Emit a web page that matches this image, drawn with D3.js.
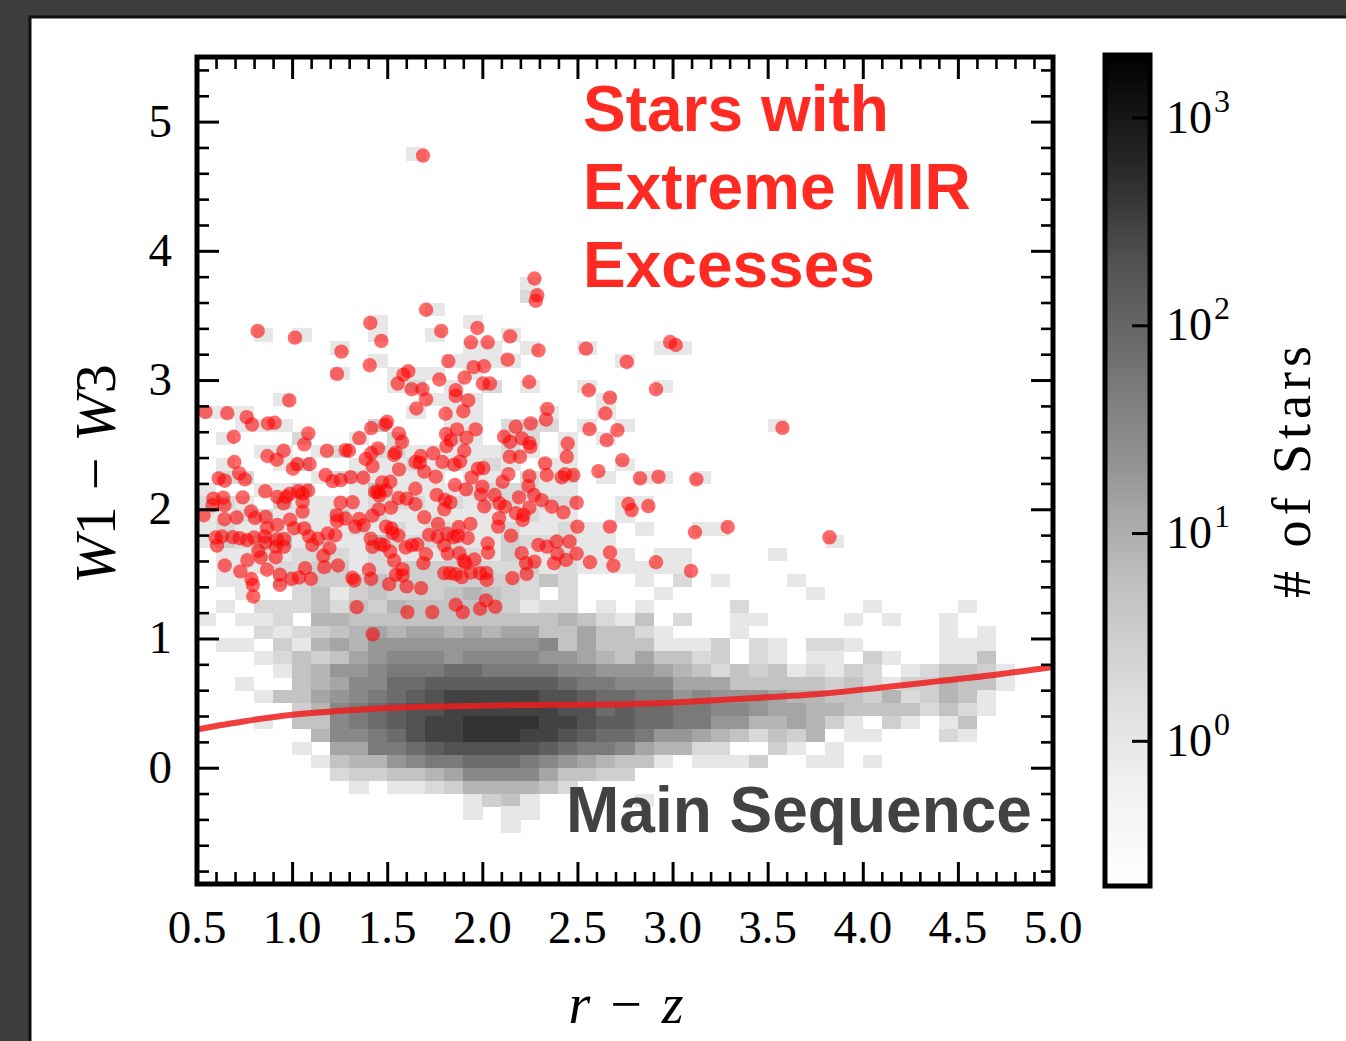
<!DOCTYPE html>
<html><head><meta charset="utf-8">
<script src="https://cdn.jsdelivr.net/npm/d3@7"></script>
<style>
html,body{margin:0;padding:0;background:#3c3c3c;}
svg{display:block;}
</style></head><body>
<svg id="chart" width="1346" height="1041"></svg>
<script>
// ---------------- DATA ----------------
const xTickValues = [0.5,1.0,1.5,2.0,2.5,3.0,3.5,4.0,4.5,5.0];
const xTickLabels = ["0.5","1.0","1.5","2.0","2.5","3.0","3.5","4.0","4.5","5.0"];
const yTickValues = [0,1,2,3,4,5];
const yTickLabels = ["0","1","2","3","4","5"];
const cbTickValues = [1,10,100,1000];
const cbTickExponents = ["0","1","2","3"];

// 2D histogram, bins of 0.1 x 0.1 starting at r-z = 0.5; rows from W1-W3 = 4.7 down to -0.5
// each character is a count level (see levelCounts), '.' = empty; '|' separates groups of 5 bins
const histTopY = 4.7;
const levelCounts = {"1":1,"2":2,"3":3,"4":5,"5":8,"6":13,"7":20,"8":32,"9":50,"a":80,"b":130,"c":200,"d":300,"e":450};
const histRows = [
 ".....|.....|.1...",
 "", "", "", "", "", "", "", "", "",
 ".....|.....|.....|..1..",
 ".....|.....|.....|..2..",
 ".....|.....|..1..",
 ".....|....1|....1",
 "...1.|1...1|..1..|.1...",
 ".....|..1..|....1|1.1..|1...1|1....",
 ".....|....1|...11|11...|..1..",
 ".....|..1..|111.1",
 ".....|.....|12.1.|2.1..|1...1",
 "....1|.....|..111|.....|.1...",
 "111..|.....|.1.11|...1.|.1...",
 "..111|....3|...11|.222.|1.1..|.....|1....",
 ".1...|2..1.|2..21|.22.1|.1...",
 "...11|.12.2|21111|121.1",
 ".1..1|3..11|12121|21.11|..1..",
 ".22..|.1221|111.1|1.213|.1.11|.1...",
 "1..11|3..14|11112|22211",
 "221.3|11112|22121|22122|..11.",
 "11221|11312|11111|11211|..1..",
 "12111|21121|21221|12112|11.1.|.11..",
 "13234|12114|22221|13222|11...|.....|...1.",
 ".1121|22212|11122|13112|111.1|1....|1....",
 ".1112|23312|23333|22312|11111|1....",
 ".11.2|23334|33333|33242|...1.|2.1..|.1...",
 "..1..|24134|33345|432.2|....1|.....|..1..",
 ".1.22|24243|54444|43122|.1.1.|...2.|.....|1....|1....",
 "1.112|.5544|44444|44445|4214.|2..11|....1|.1..1",
 "...21|23456|56656|56644|64421|...1.|.....|....1|.1...",
 ".11.3|15657|77777|77784|64441|113.2|1.221|....1|11...",
 "...12|43467|88878|88877|65464|423.2|1.11.|31..1|14...",
 "....1|45778|999aa|99998|87776|54243|41213|2.124|431..",
 "..1..|45688|aabbb|bbbba|99888|66644|44434|21335|441..",
 "...14|46789|abcdd|dddcc|baa99|78777|65544|35235|41...",
 ".....|3589a|bccdd|ddddc|cabaa|99887|66554|44424|21...",
 "...1.|4489a|bcdde|eeedd|cbbaa|99775|56531|.31.1|4....",
 ".....|.5889|acdde|eeddc|baa97|76542|435.1|1...2|1....",
 ".....|1.669|9abcc|cccba|99865|522..|31.1.",
 ".....|.1455|7899a|aa987|65441|.1113|..11.|1....",
 ".....|..233|44568|88864|433..",
 ".....|...1.|11235|55542",
 ".....|.....|....1|341..|...1.",
 ".....|.....|....1|.11..",
 ".....|.....|.....|.1..."
];

// Stars with extreme MIR excesses: [r-z, W1-W3]
const excessStars = [
[1.688,4.737],
[1.704,3.544],[1.411,3.442],[1.974,3.403],[0.819,3.380],[1.784,3.380],[1.015,3.328],[1.469,3.303],[1.940,3.292],[2.028,3.292],[1.259,3.220],
[1.821,3.146],[1.408,3.115],[1.954,3.100],[2.009,3.107],[1.236,3.048],[1.585,3.042],[1.611,3.068],[1.774,3.004],[1.907,3.019],[1.555,2.973],
[2.003,2.973],[2.040,2.973],[1.628,2.929],[1.685,2.929],[1.860,2.922],[1.860,2.878],[1.704,2.850],[1.926,2.842],[0.985,2.842],[1.653,2.780],
[1.900,2.759],[0.545,2.754],[0.659,2.744],[1.807,2.739],[0.761,2.713],[0.789,2.656],[0.873,2.664],[0.908,2.669],[1.499,2.677],[1.490,2.656],
[1.416,2.628],[1.867,2.618],[1.965,2.618],[1.560,2.587],[1.085,2.587],[0.693,2.561],[1.353,2.551],[1.809,2.582],[1.916,2.553],[1.578,2.522],
[1.835,2.535],[1.064,2.502],[1.811,2.489],[0.955,2.453],[1.183,2.453],[1.281,2.458],[1.299,2.453],[1.451,2.471],[1.905,2.453],[1.416,2.433],
[1.544,2.438],[1.676,2.412],[1.742,2.433],[0.870,2.412],[0.919,2.384],[1.387,2.389],[1.536,2.420],[0.696,2.366],[1.648,2.366],[1.790,2.366],
[1.853,2.345],[1.883,2.371],[1.671,2.360],[1.027,2.350],[1.092,2.350],[1.423,2.334],[1.005,2.314],[1.562,2.309],[1.977,2.314],[2.005,2.319],
[1.695,2.291],[0.722,2.278],[0.614,2.239],[0.646,2.221],[0.752,2.231],[1.176,2.265],[1.213,2.218],[1.255,2.226],[1.308,2.249],[1.374,2.244],
[1.474,2.208],[1.516,2.213],[1.755,2.252],[1.944,2.247],[0.859,2.139],[1.033,2.139],[1.084,2.144],[1.437,2.134],[1.451,2.134],[1.492,2.144],
[1.648,2.159],[1.856,2.188],[1.914,2.154],[2.000,2.175],[0.586,2.082],[0.638,2.090],[0.740,2.092],[0.922,2.095],[0.969,2.097],[0.989,2.121],
[1.055,2.121],[1.458,2.108],[1.560,2.087],[1.602,2.082],[1.760,2.111],[1.804,2.072],[1.993,2.113],[0.582,2.031],[0.644,2.031],[0.785,1.984],
[0.955,2.046],[1.055,2.059],[1.255,2.051],[1.318,2.054],[1.455,1.999],[1.520,2.013],[1.648,2.039],[1.800,1.999],[1.832,2.054],[2.010,2.023],
[0.535,1.954],[0.644,1.923],[0.708,1.936],[0.805,1.933],[0.861,1.941],[0.989,1.920],[1.055,1.982],[1.234,1.954],[1.236,1.907],[1.280,1.928],
[1.353,1.925],[1.422,1.951],[1.695,1.938],[0.868,1.856],[0.922,1.879],[1.010,1.853],[1.064,1.851],[1.332,1.866],[1.376,1.877],[1.494,1.866],
[1.522,1.851],[1.767,1.887],[1.876,1.863],[1.937,1.887],[0.598,1.781],[0.631,1.789],[0.688,1.784],[0.724,1.776],[0.763,1.761],[0.800,1.781],
[0.856,1.789],[0.919,1.768],[0.957,1.771],[1.089,1.791],[1.136,1.773],[1.187,1.812],[1.227,1.799],[1.413,1.773],[1.464,1.730],[1.529,1.815],
[1.558,1.797],[1.720,1.802],[1.765,1.786],[1.816,1.810],[1.849,1.784],[1.871,1.794],[1.923,1.778],[2.028,1.735],[0.605,1.719],[0.822,1.678],
[0.859,1.742],[0.915,1.711],[0.957,1.709],[1.106,1.724],[1.196,1.699],[1.422,1.709],[1.483,1.722],[1.516,1.673],[1.597,1.704],[1.630,1.722],
[1.658,1.727],[1.704,1.652],[1.799,1.722],[1.818,1.657],[1.879,1.660],[2.030,1.665],[0.765,1.606],[0.835,1.627],[0.914,1.629],[1.164,1.640],
[1.902,1.601],[1.958,1.611],[0.646,1.565],[0.728,1.519],[0.868,1.532],[1.068,1.544],[1.169,1.552],[1.241,1.565],[1.404,1.532],[1.546,1.493],
[1.581,1.488],[1.800,1.505],[1.830,1.505],[1.860,1.498],[1.988,1.505],[2.021,1.508],[0.936,1.493],[1.036,1.472],[0.786,1.460],[1.317,1.470],
[0.998,1.462],[1.099,1.462],[1.415,1.462],[1.536,1.603],[1.581,1.536],[1.690,1.583],[1.940,1.511],[1.892,1.475],[1.911,1.583],
[2.274,3.786],[2.289,3.657],[2.281,3.613],[2.146,3.338],[2.295,3.230],[2.133,3.158],[2.545,3.243],[2.987,3.294],[3.017,3.271],[2.759,3.140],
[2.246,2.985],[2.559,2.921],[2.671,2.864],[2.913,2.929],[2.342,2.777],[2.335,2.694],[2.647,2.741],[2.254,2.664],[2.176,2.638],[2.114,2.561],
[2.146,2.522],[2.207,2.548],[2.247,2.514],[2.253,2.483],[2.449,2.509],[2.563,2.620],[2.710,2.612],[2.654,2.535],[3.578,2.630],[2.144,2.406],
[2.198,2.406],[2.444,2.406],[2.330,2.355],[2.339,2.265],[2.417,2.247],[2.479,2.265],[2.435,2.272],[2.610,2.295],[2.736,2.380],[2.829,2.239],
[2.926,2.252],[3.125,2.231],[2.107,2.213],[2.137,2.272],[2.247,2.257],[2.242,2.180],[2.272,2.110],[2.312,2.071],[2.193,2.092],[2.365,2.020],
[2.426,1.976],[2.496,2.051],[2.065,2.110],[2.090,2.046],[2.119,2.020],[2.177,1.969],[2.216,1.956],[2.247,2.012],[2.212,1.917],[2.088,1.930],
[2.083,1.866],[2.151,1.796],[2.295,1.724],[2.339,1.711],[2.391,1.750],[2.458,1.750],[2.395,1.655],[2.496,1.657],[2.671,1.665],[2.440,1.608],
[2.377,1.582],[2.207,1.660],[2.274,1.595],[2.230,1.582],[2.566,1.590],[2.689,1.564],[2.913,1.590],[3.097,1.523],[2.768,2.041],[2.785,1.994],
[2.873,2.025],[2.500,1.866],[2.671,1.866],[3.118,1.822],[3.290,1.863],[3.825,1.783],[2.023,1.454],[2.158,1.467],[2.233,1.500],
[0.794,1.415],[0.936,1.415],[0.796,1.325],[1.327,1.449],[1.340,1.243],[1.424,1.032],[1.510,1.421],[1.602,1.403],[1.606,1.204],[1.678,1.390],
[1.737,1.204],[1.860,1.261],[1.897,1.204],[1.988,1.230],[2.019,1.295],[2.068,1.246]
];

// main-sequence locus (red curve)
const msX = [0.5, 0.75, 1.0, 1.3, 1.6, 2.0, 2.4, 2.7, 3.0, 3.2, 3.5, 3.8, 4.1, 4.4, 4.7, 5.0];
const msY = [0.296, 0.36, 0.41, 0.445, 0.468, 0.48, 0.487, 0.49, 0.505, 0.52, 0.545, 0.575, 0.62, 0.67, 0.72, 0.78];

// ---------------- DRAWING ----------------
const svg = d3.select("#chart");
const W = 1346, H = 1041;
const P = {l:197, r:1053, t:57, b:884};
const CB = {l:1105, r:1150, t:55, b:886};
const binW = 0.1;

// background frame
svg.append("rect").attr("x",0).attr("y",0).attr("width",W).attr("height",H).attr("fill","#3d3d3d");
svg.append("rect").attr("x",30).attr("y",17).attr("width",W).attr("height",H).attr("fill","#ffffff")
  .attr("stroke","#111").attr("stroke-width",3);

const x = d3.scaleLinear().domain([0.5, 5.0]).range([P.l, P.r]);
const y = d3.scaleLinear().domain([-0.9, 5.5]).range([P.b, P.t]);
const cbScale = d3.scaleLog().domain([0.2, 2000]).range([CB.b, CB.t]);

const greysStops = ["#ffffff","#f0f0f0","#d9d9d9","#bdbdbd","#969696","#737373","#525252","#252525","#000000"];
const greys = d3.scaleLinear().domain(d3.range(9).map(i => i/8)).range(greysStops)
  .interpolate(d3.interpolateRgb).clamp(true);
const norm = d3.scaleLog().domain(cbScale.domain()).range([0,1]).clamp(true);

// histogram cells
const cells = [];
histRows.forEach((s, i) => {
  const row = s.replace(/\|/g, "");
  const y0 = +(histTopY - i*binW).toFixed(2);
  for (let c = 0; c < row.length; c++) {
    const ch = row[c];
    if (ch === "." || !(ch in levelCounts)) continue;
    cells.push({x0: +(0.5 + c*binW).toFixed(2), y0: y0, n: levelCounts[ch]});
  }
});
svg.append("defs").append("clipPath").attr("id","plotclip").append("rect")
  .attr("x",P.l).attr("y",P.t).attr("width",P.r-P.l).attr("height",P.b-P.t);

const gPlot = svg.append("g").attr("clip-path","url(#plotclip)");
gPlot.append("g").selectAll("rect").data(cells).join("rect")
  .attr("x", d => x(d.x0))
  .attr("y", d => y(d.y0 + binW))
  .attr("width", d => x(d.x0 + binW) - x(d.x0) + 0.4)
  .attr("height", d => y(d.y0) - y(d.y0 + binW) + 0.4)
  .attr("fill", d => greys(norm(d.n)))
  .attr("shape-rendering","crispEdges");

// main sequence line
const line = d3.line().x((d,i) => x(msX[i])).y((d,i) => y(msY[i])).curve(d3.curveMonotoneX);
gPlot.append("path").datum(msX).attr("d", line).attr("fill","none")
  .attr("stroke","#ee1c1c").attr("stroke-opacity",0.85).attr("stroke-width",6);

// scatter
gPlot.append("g").selectAll("circle").data(excessStars).join("circle")
  .attr("cx", d => x(d[0])).attr("cy", d => y(d[1])).attr("r", 7.2)
  .attr("fill","#ff0000").attr("fill-opacity",0.58);

// axes ticks (inward, all four sides)
const xMinor = d3.range(5, 51).map(v => v/10).filter(v => Math.abs(v*2 - Math.round(v*2)) > 1e-6);
const yMinor = d3.range(-4, 28).map(v => v/5).filter(v => Math.abs(v - Math.round(v)) > 1e-6);
function styleAxis(g, w) {
  g.select(".domain").remove();
  g.selectAll("line").attr("stroke","#000").attr("stroke-width", w);
  g.selectAll("text").remove();
}
const majL = 22, minL = 12;
svg.append("g").attr("transform",`translate(0,${P.b})`).call(d3.axisBottom(x).tickValues(xTickValues).tickSize(-majL)).call(g=>styleAxis(g,3));
svg.append("g").attr("transform",`translate(0,${P.b})`).call(d3.axisBottom(x).tickValues(xMinor).tickSize(-minL)).call(g=>styleAxis(g,2.6));
svg.append("g").attr("transform",`translate(0,${P.t})`).call(d3.axisTop(x).tickValues(xTickValues).tickSize(-majL)).call(g=>styleAxis(g,3));
svg.append("g").attr("transform",`translate(0,${P.t})`).call(d3.axisTop(x).tickValues(xMinor).tickSize(-minL)).call(g=>styleAxis(g,2.6));
svg.append("g").attr("transform",`translate(${P.l},0)`).call(d3.axisLeft(y).tickValues(yTickValues).tickSize(-majL)).call(g=>styleAxis(g,3));
svg.append("g").attr("transform",`translate(${P.l},0)`).call(d3.axisLeft(y).tickValues(yMinor).tickSize(-minL)).call(g=>styleAxis(g,2.6));
svg.append("g").attr("transform",`translate(${P.r},0)`).call(d3.axisRight(y).tickValues(yTickValues).tickSize(-majL)).call(g=>styleAxis(g,3));
svg.append("g").attr("transform",`translate(${P.r},0)`).call(d3.axisRight(y).tickValues(yMinor).tickSize(-minL)).call(g=>styleAxis(g,2.6));

// spines
svg.append("rect").attr("x",P.l).attr("y",P.t).attr("width",P.r-P.l).attr("height",P.b-P.t)
  .attr("fill","none").attr("stroke","#000").attr("stroke-width",5);

// tick labels
const serif = "'Liberation Serif','Times New Roman',serif";
svg.append("g").selectAll("text").data(xTickValues).join("text")
  .attr("x", d => x(d)).attr("y", 943).attr("text-anchor","middle")
  .attr("font-family", serif).attr("font-size", 47).attr("fill","#000")
  .text((d,i) => xTickLabels[i]);
svg.append("g").selectAll("text").data(yTickValues).join("text")
  .attr("x", 172).attr("y", d => y(d) + 15).attr("text-anchor","end")
  .attr("font-family", serif).attr("font-size", 47).attr("fill","#000")
  .text((d,i) => yTickLabels[i]);

// axis titles
const xt = svg.append("text").attr("x", 626).attr("y", 1023).attr("text-anchor","middle")
  .attr("font-family", serif).attr("font-size", 56).attr("fill","#000");
xt.append("tspan").attr("font-style","italic").text("r");
xt.append("tspan").attr("dx", 20).text("\u2212");
xt.append("tspan").attr("dx", 20).attr("font-style","italic").text("z");

const yt = svg.append("text").attr("transform","translate(115,474) rotate(-90)").attr("text-anchor","middle")
  .attr("font-family", serif).attr("font-size", 58).attr("fill","#000");
yt.append("tspan").attr("font-style","italic").text("W");
yt.append("tspan").text("1");
yt.append("tspan").attr("dx", 16).text("\u2212");
yt.append("tspan").attr("dx", 16).attr("font-style","italic").text("W");
yt.append("tspan").text("3");

// colorbar
const grad = svg.select("defs").append("linearGradient").attr("id","cbgrad")
  .attr("x1",0).attr("y1",1).attr("x2",0).attr("y2",0);
d3.range(0, 41).forEach(i => {
  const t = i/40;
  grad.append("stop").attr("offset", t).attr("stop-color", greys(t));
});
svg.append("rect").attr("x",CB.l).attr("y",CB.t).attr("width",CB.r-CB.l).attr("height",CB.b-CB.t)
  .attr("fill","url(#cbgrad)");
svg.append("g").attr("transform",`translate(${CB.r},0)`)
  .call(d3.axisLeft(cbScale).tickValues(cbTickValues).tickSize(18)).call(g=>styleAxis(g,3));
svg.append("rect").attr("x",CB.l).attr("y",CB.t).attr("width",CB.r-CB.l).attr("height",CB.b-CB.t)
  .attr("fill","none").attr("stroke","#000").attr("stroke-width",5);
const cbl = svg.append("g").selectAll("text").data(cbTickValues).join("text")
  .attr("x", 1166).attr("y", d => cbScale(d) + 15)
  .attr("font-family", serif).attr("font-size", 46).attr("fill","#000");
cbl.append("tspan").text("10");
cbl.append("tspan").attr("dx", 2).attr("dy", -21).attr("font-size", 32).text((d,i) => cbTickExponents[i]);

svg.append("text").attr("transform","translate(1310,472) rotate(-90)").attr("text-anchor","middle")
  .attr("font-family", serif).attr("font-size", 54).attr("fill","#000")
  .attr("textLength", 252).attr("lengthAdjust","spacing")
  .text("# of Stars");

// annotations
const sans = "'Liberation Sans',Arial,Helvetica,sans-serif";
const redLines = ["Stars with", "Extreme MIR", "Excesses"];
svg.append("g").selectAll("text").data(redLines).join("text")
  .attr("x", 583).attr("y", (d,i) => 131 + i*78)
  .attr("font-family", sans).attr("font-weight","bold").attr("font-size", 64)
  .attr("fill","#ff2b22").text(d => d);
svg.append("text").attr("x", 566).attr("y", 832)
  .attr("font-family", sans).attr("font-weight","bold").attr("font-size", 64)
  .attr("fill","#424242").text("Main Sequence");
</script>
</body></html>
